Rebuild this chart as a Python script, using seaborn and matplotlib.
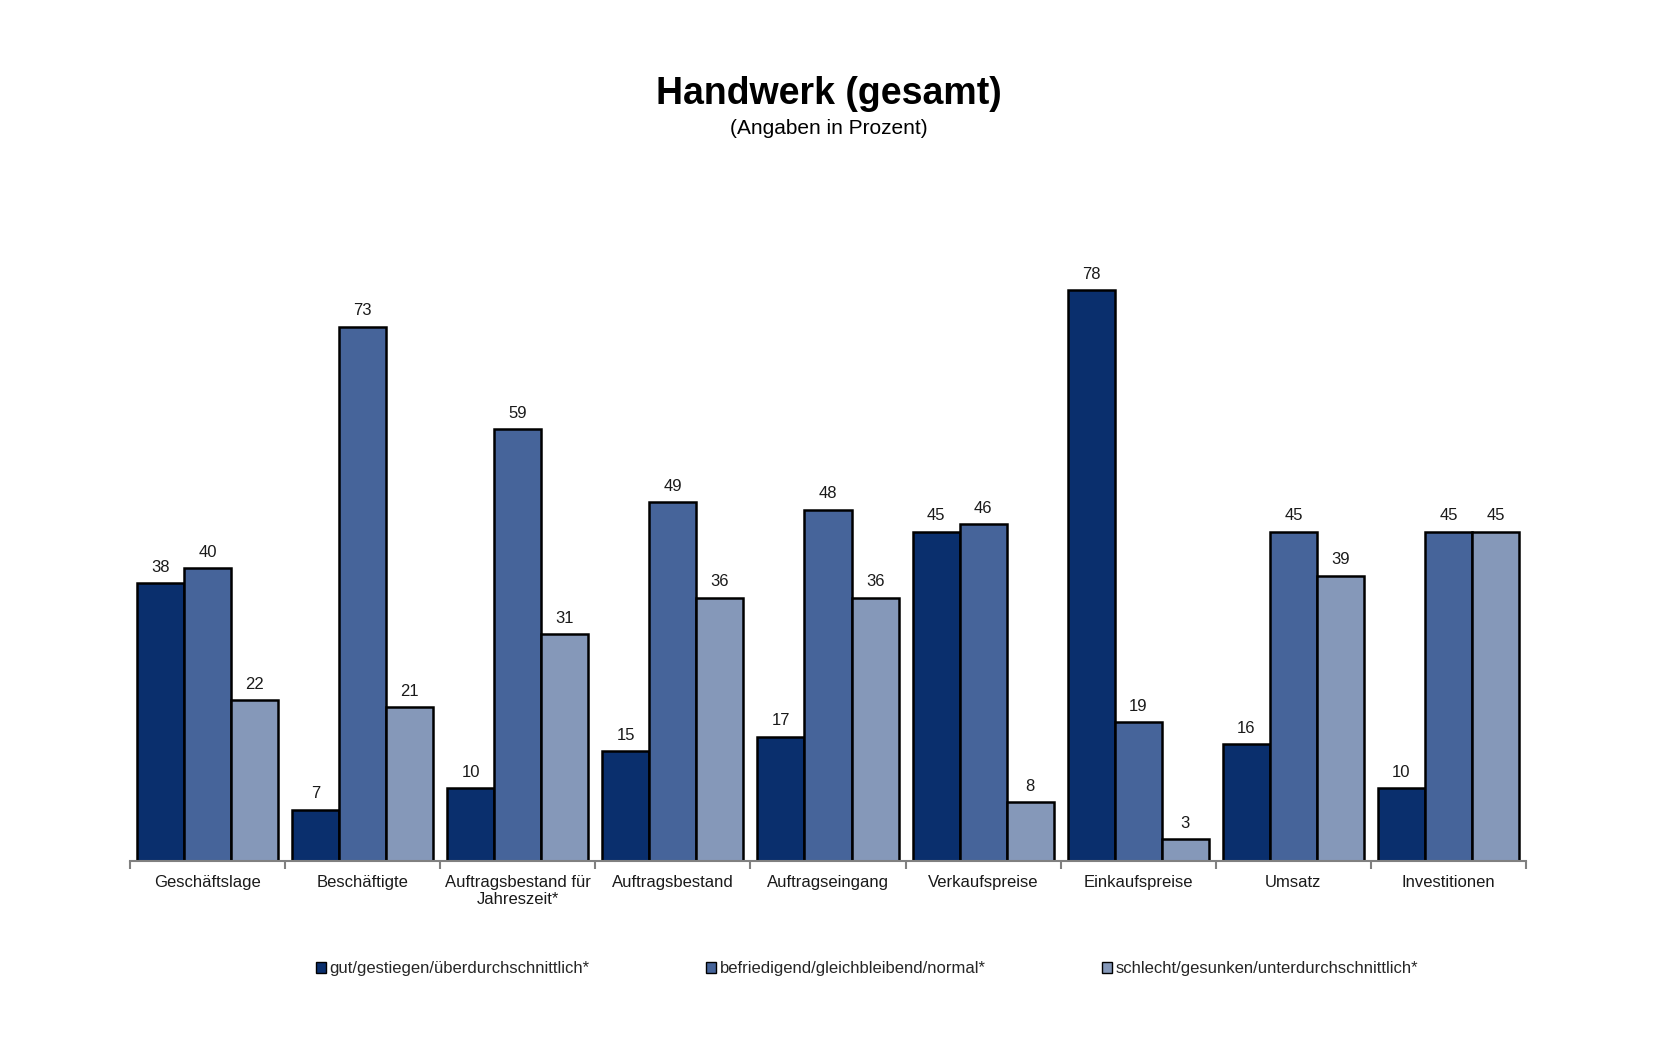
import matplotlib
matplotlib.use("Agg")
import matplotlib.pyplot as plt
import seaborn as sns
import pandas as pd
import numpy as np

categories = ["Geschäftslage", "Beschäftigte", "Auftragsbestand für\nJahreszeit*",
              "Auftragsbestand", "Auftragseingang", "Verkaufspreise",
              "Einkaufspreise", "Umsatz", "Investitionen"]
series_names = ["gut/gestiegen/überdurchschnittlich*",
                "befriedigend/gleichbleibend/normal*",
                "schlecht/gesunken/unterdurchschnittlich*"]
gut = [38, 7, 10, 15, 17, 45, 78, 16, 10]
befriedigend = [40, 73, 59, 49, 48, 46, 19, 45, 45]
schlecht = [22, 21, 31, 36, 36, 8, 3, 39, 45]
colors = ["#0a2f6d", "#46649a", "#8598b9"]

rows = []
for s, vals in zip(series_names, [gut, befriedigend, schlecht]):
    for c, v in zip(categories, vals):
        rows.append({"Kategorie": c, "Serie": s, "Wert": v})
df = pd.DataFrame(rows)

sns.set_theme(style="white")
plt.rcParams["font.family"] = ["Liberation Sans", "DejaVu Sans"]

fig = plt.figure(figsize=(16.77, 10.57), dpi=100)
ax = fig.add_axes([0.0775, 0.1854, 0.8325, 0.5886])

sns.barplot(data=df, x="Kategorie", y="Wert", hue="Serie", order=categories,
            hue_order=series_names, palette=colors, width=0.91, gap=0,
            edgecolor="black", linewidth=1.8, saturation=1, ax=ax, legend=True)

for cont in ax.containers:
    ax.bar_label(cont, fmt="%d", padding=6, fontsize=12, color="#1a1a1a")

ax.set_ylim(0, 85)
ax.set_xlim(-0.5, len(categories) - 0.5)
ax.set_xlabel("")
ax.set_ylabel("")
ax.set_yticks([])
for sp in ["top", "right", "left"]:
    ax.spines[sp].set_visible(False)
ax.spines["bottom"].set_color("#808080")
ax.spines["bottom"].set_linewidth(1.5)

ax.set_xticks(np.arange(len(categories)))
ax.set_xticklabels(categories, fontsize=12, color="#1a1a1a")
ax.tick_params(axis="x", which="major", length=0, pad=10)
ax.set_xticks(np.arange(-0.5, len(categories)), minor=True)
ax.tick_params(axis="x", which="minor", length=6, width=1.5, color="#808080", bottom=True)

leg = ax.legend(loc="center", bbox_to_anchor=(0.528, -0.173), ncol=3, frameon=False,
                fontsize=12, handlelength=0.6, handleheight=0.6, handletextpad=0.2,
                columnspacing=7.0)
for h in leg.legend_handles:
    h.set_edgecolor("black")
    h.set_linewidth(1.0)

fig.text(0.4945, 0.911, "Handwerk (gesamt)", ha="center", va="center",
         fontsize=27, fontweight="bold", color="black")
fig.text(0.4945, 0.878, "(Angaben in Prozent)", ha="center", va="center",
         fontsize=15, color="black")

fig.savefig("out.png", dpi=100, facecolor="white")
